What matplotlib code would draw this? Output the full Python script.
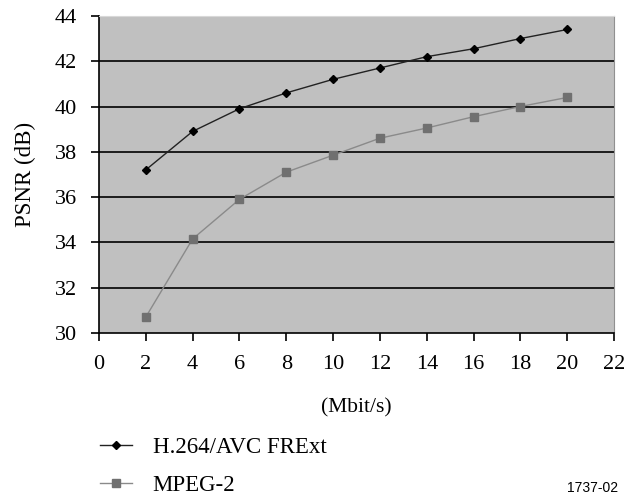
import matplotlib
matplotlib.use('Agg')
from matplotlib import pyplot as plt

plt.rcParams['font.family'] = ['Liberation Serif', 'DejaVu Serif']

rate = [2, 4, 6, 8, 10, 12, 14, 16, 18, 20]
psnr_h264 = [37.2, 38.9, 39.9, 40.6, 41.2, 41.7, 42.2, 42.55, 43.0, 43.4]
psnr_mpeg2 = [30.7, 34.15, 35.9, 37.1, 37.85, 38.6, 39.05, 39.55, 40.0, 40.4]
x_ticks = list(range(0, 23, 2))
y_ticks = list(range(30, 45, 2))

fig = plt.figure(figsize=(6.26, 4.97), dpi=100)
ax = fig.add_axes([0.158, 0.330, 0.823, 0.638])
ax.set_facecolor('#c0c0c0')

for yv in y_ticks[1:-1]:
    ax.axhline(yv, color='black', lw=1.2, zorder=1)

h1, = ax.plot(rate, psnr_h264, color='#222222', lw=1.0, marker='D', ms=4,
              mfc='black', mec='black', zorder=3, label='H.264/AVC FRExt')
h2, = ax.plot(rate, psnr_mpeg2, color='#8a8a8a', lw=1.0, marker='s', ms=5.5,
              mfc='#707070', mec='#707070', zorder=3, label='MPEG-2')

ax.set_xlim(0, 22)
ax.set_ylim(30, 44)
ax.set_xticks(x_ticks)
ax.set_yticks(y_ticks)
ax.tick_params(axis='both', direction='out', length=5.5, width=1.2, labelsize=16, color='black')
ax.tick_params(axis='x', pad=10.5)
ax.tick_params(axis='y', pad=10.5)

ax.spines['left'].set_linewidth(1.2)
ax.spines['bottom'].set_linewidth(1.2)
ax.spines['right'].set_color('#909090')
ax.spines['top'].set_color('#d8d8d8')

ax.set_ylabel('PSNR (dB)', fontsize=16.5, labelpad=13)
ax.set_xlabel('(Mbit/s)', fontsize=15.5, labelpad=17)

fig.legend(handles=[h1, h2], loc='upper left', bbox_to_anchor=(100 / 626, 1 - 437 / 497),
           frameon=False, fontsize=16.5, handlelength=1.4, handletextpad=0.9,
           labelspacing=0.72, borderpad=0, borderaxespad=0)

fig.text(567 / 626, 2 / 497, '1737-02', fontsize=10, va='bottom', family='Liberation Sans')

fig.savefig('out.png', dpi=100)
